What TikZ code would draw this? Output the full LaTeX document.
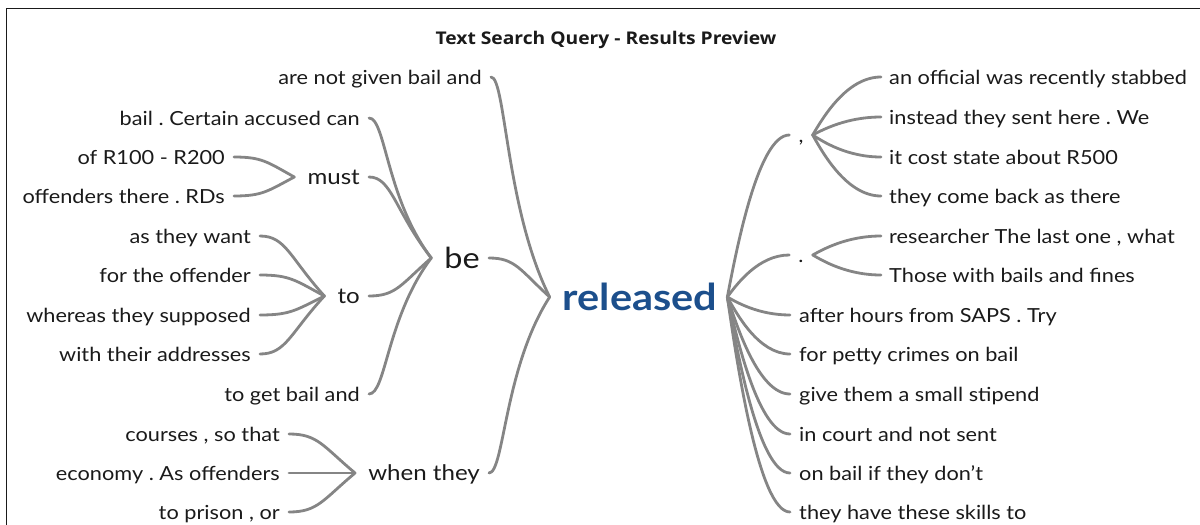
\documentclass[tikz,border=0pt]{standalone}
\usepackage{fontspec}
\setmainfont{Lato}[FakeStretch=1.12]
\newfontfamily\titlefont{Open Sans}[FakeStretch=1.1]
\usetikzlibrary{calc}
\definecolor{branch}{HTML}{858585}
\definecolor{ink}{HTML}{1A1A1A}
\definecolor{keyword}{HTML}{1C4F8C}
\frenchspacing
\begin{document}
\begin{tikzpicture}[x=1pt,y=-1pt,
  word/.style={font=\fontsize{19.4}{19.4}\selectfont, text=ink, inner sep=0pt, text height=14pt, text depth=0pt},
  joint/.style={font=\fontsize{21.5}{21.5}\selectfont, text=ink, inner sep=0pt, text height=15.5pt, text depth=0pt},
  big/.style={font=\fontsize{29}{29}\selectfont, text=ink, inner sep=0pt, text height=21pt, text depth=0pt},
  key/.style={font=\bfseries\fontsize{37}{37}\selectfont, text=keyword, inner sep=0pt, text height=26.6pt, text depth=0pt},
  titletext/.style={font=\titlefont\bfseries\fontsize{17.5}{17.5}\selectfont, text=ink, inner sep=0pt},
  lk/.style={draw=branch, line width=2.8pt, line cap=round},
  frame/.style={draw=ink, line width=1.5pt},
  % child on the left: flat start, curve ends pointed at the parent;
  % the steeper the drop, the sooner the curve turns
  inL/.style={to path={let \p1=(\tikztostart), \p2=(\tikztotarget),
      \n1={min(abs(\y2-\y1)/150,1)} in
      .. controls ({\x1+(0.5-0.25*\n1)*(\x2-\x1)},\y1)
             and ({\x1+(0.6-0.35*\n1)*(\x2-\x1)},{\y1+(0.2+0.4*\n1)*(\y2-\y1)})
      .. (\tikztotarget)}},
  % parent on the left: curve leaves it pointed and ends flat at the child
  outR/.style={to path={let \p1=(\tikztostart), \p2=(\tikztotarget) in
      .. controls ({\x1+0.15*(\x2-\x1)},{\y1+0.3*(\y2-\y1)}) and ({\x1+0.5*(\x2-\x1)},\y2) .. (\tikztotarget)}}
]
\useasboundingbox (0,0) rectangle (1200,525);

% frame (open to the right and bottom)
\draw[frame] (6.5,525) -- (6.5,8.5) -- (1200,8.5);

\node[titletext] (title) at (606,40) {Text Search Query - Results Preview};

% central keyword
\node[key] (rel) at (640,297) {released};

% left-hand tree
\node[word, anchor=east] (a1) at (482,77) {are not given bail and};
\node[big, anchor=east] (be) at (480,258) {be};
\node[joint, anchor=east] (when) at (480,473) {when they};

\node[word, anchor=east] (a2) at (360,118) {bail . Certain accused can};
\node[joint, anchor=east] (must) at (360,177) {must};
\node[joint, anchor=east] (to) at (360,296) {to};
\node[word, anchor=east] (a9) at (360,394) {to get bail and};

\node[word, anchor=east] (a3) at (225,157) {of R100 - R200};
\node[word, anchor=east] (a4) at (225,196) {offenders there . RDs};

\node[word, anchor=east] (a5) at (251,236) {as they want};
\node[word, anchor=east] (a6) at (251,275) {for the offender};
\node[word, anchor=east] (a7) at (251,315) {whereas they supposed};
\node[word, anchor=east] (a8) at (251,354) {with their addresses};

\node[word, anchor=east] (a10) at (280,434) {courses , so that};
\node[word, anchor=east] (a11) at (280,473) {economy . As offenders};
\node[word, anchor=east] (a12) at (280,512) {to prison , or};

% right-hand tree
\node[word] (comma) at (801,135) {,};
\node[word] (dot) at (801,255) {.};

\node[word, anchor=west] (b1) at (889,77) {an official was recently stabbed};
\node[word, anchor=west] (b2) at (889,117) {instead they sent here . We};
\node[word, anchor=west] (b3) at (889,157) {it cost state about R500};
\node[word, anchor=west] (b4) at (889,196) {they come back as there};
\node[word, anchor=west] (b5) at (889,236) {researcher The last one , what};
\node[word, anchor=west] (b6) at (889,275) {Those with bails and fines};

\node[word, anchor=west] (b7) at (799,315) {after hours from SAPS . Try};
\node[word, anchor=west] (b8) at (799,354) {for petty crimes on bail};
\node[word, anchor=west] (b9) at (799,394) {give them a small stipend};
\node[word, anchor=west] (b10) at (799,434) {in court and not sent};
\node[word, anchor=west] (b11) at (799,473) {on bail if they don’t};
\node[word, anchor=west] (b12) at (799,512) {they have these skills to};

% left-hand branches
\foreach \c/\p in {a1/rel, be/rel, when/rel,
                   a2/be, must/be, to/be, a9/be,
                   a3/must, a4/must,
                   a5/to, a6/to, a7/to, a8/to,
                   a10/when, a11/when, a12/when}
  \draw[lk] ([xshift=9]\c.east) to[inL] ([xshift=-13]\p.west);

% right-hand branches
\foreach \p/\c in {rel/comma, rel/dot, rel/b7, rel/b8, rel/b9, rel/b10, rel/b11, rel/b12}
  \draw[lk] ([xshift=10]\p.east) to[outR] ([xshift=-9]\c.west);
\foreach \p/\c in {comma/b1, comma/b2, comma/b3, comma/b4, dot/b5, dot/b6}
  \draw[lk] ([xshift=9]\p.east) to[outR] ([xshift=-8]\c.west);
\end{tikzpicture}
\end{document}
